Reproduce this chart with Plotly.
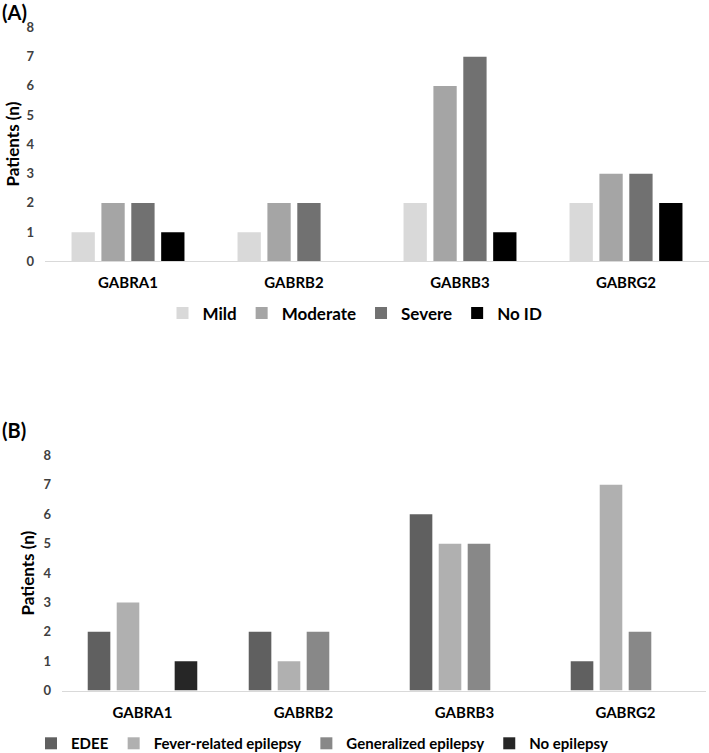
import plotly.graph_objects as go

genes = ["GABRA1", "GABRB2", "GABRB3", "GABRG2"]
y_ticks = [0, 1, 2, 3, 4, 5, 6, 7, 8]

# Panel A: intellectual disability
id_names = ["Mild", "Moderate", "Severe", "No ID"]
id_mild = [1, 1, 2, 2]
id_moderate = [2, 2, 6, 3]
id_severe = [2, 2, 7, 3]
id_none = [1, 0, 1, 2]
id_colors = ["#d9d9d9", "#a5a5a5", "#717171", "#000000"]

# Panel B: epilepsy
ep_names = ["EDEE", "Fever-related epilepsy", "Generalized epilepsy", "No epilepsy"]
ep_edee = [2, 2, 6, 1]
ep_fever = [3, 1, 5, 7]
ep_general = [0, 2, 5, 2]
ep_none = [1, 0, 0, 0]
ep_colors = ["#606060", "#b0b0b0", "#888888", "#262626"]

FONT = "Lato"
W, H = 709, 769

fig = go.Figure()

for name, vals, col in zip(id_names, [id_mild, id_moderate, id_severe, id_none], id_colors):
    fig.add_trace(go.Bar(x=genes, y=vals, name=name, marker=dict(color=col, line=dict(width=0)),
                         xaxis="x", yaxis="y", legend="legend"))
for name, vals, col in zip(ep_names, [ep_edee, ep_fever, ep_general, ep_none], ep_colors):
    fig.add_trace(go.Bar(x=genes, y=vals, name=name, marker=dict(color=col, line=dict(width=0)),
                         xaxis="x2", yaxis="y2", legend="legend2"))

def py(pix):
    d = (pix - 7.6) / 0.979
    return 1 - d / H

xa_common = dict(type="category", showgrid=False, showline=True, linecolor="#d9d9d9", linewidth=1,
                 ticks="", tickfont=dict(family=FONT, size=15, color="#000000", weight="bold"),
                 ticklabelstandoff=8, fixedrange=True)
ya_common = dict(range=[0, 8], tickvals=y_ticks, showgrid=False, showline=False, zeroline=False,
                 ticks="", tickfont=dict(family=FONT, size=13, color="#404040", weight="bold"),
                 ticklabelstandoff=10)

fig.update_layout(
    width=W, height=H,
    margin=dict(l=0, r=0, t=0, b=0),
    paper_bgcolor="white", plot_bgcolor="white",
    barmode="group", bargap=0.28, bargroupgap=0.22,
    xaxis=dict(domain=[45 / W, 709 / W], anchor="y", **xa_common),
    yaxis=dict(domain=[py(261), py(27)], anchor="x", **ya_common),
    xaxis2=dict(domain=[62 / W, 706 / W], anchor="y2", **xa_common),
    yaxis2=dict(domain=[py(690), py(455)], anchor="x2", **ya_common),
    legend=dict(orientation="h", x=355 / W, xanchor="center", y=py(313), yanchor="middle",
                font=dict(family=FONT, size=17, color="#000000", weight="bold"),
                itemwidth=30, tracegroupgap=0, bgcolor="rgba(0,0,0,0)"),
    legend2=dict(orientation="h", x=322 / W, xanchor="center", y=py(743), yanchor="middle",
                 font=dict(family=FONT, size=15, color="#000000", weight="bold"),
                 itemwidth=30, tracegroupgap=0, bgcolor="rgba(0,0,0,0)"),
    annotations=[
        dict(text="(A)", x=0, y=py(12), xref="paper", yref="paper", xanchor="left", yanchor="middle",
             showarrow=False, font=dict(family=FONT, size=20, color="#000000", weight="bold")),
        dict(text="(B)", x=0, y=py(430), xref="paper", yref="paper", xanchor="left", yanchor="middle",
             showarrow=False, font=dict(family=FONT, size=20, color="#000000", weight="bold")),
        dict(text="Patients (n)", x=12 / W, y=py(144), xref="paper", yref="paper", textangle=-90,
             xanchor="center", yanchor="middle", showarrow=False,
             font=dict(family=FONT, size=17, color="#000000", weight="bold")),
        dict(text="Patients (n)", x=28 / W, y=py(573), xref="paper", yref="paper", textangle=-90,
             xanchor="center", yanchor="middle", showarrow=False,
             font=dict(family=FONT, size=17, color="#000000", weight="bold")),
    ],
)

fig.write_html("out.html", config={"displayModeBar": False},
               post_script="document.body.style.margin='0';")
